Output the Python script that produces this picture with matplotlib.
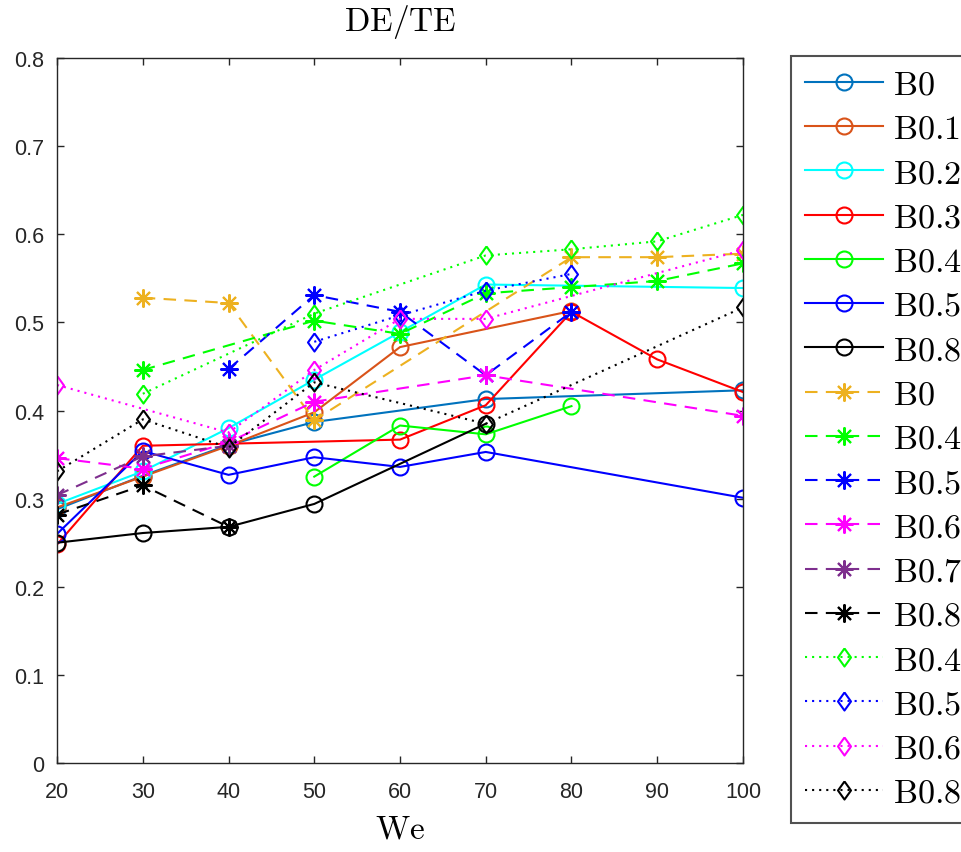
import numpy as np
import matplotlib.pyplot as plt

plt.rcParams['mathtext.fontset'] = 'cm'
plt.rcParams['font.family'] = ['Liberation Sans', 'DejaVu Sans']

# Solid lines, circle markers
x_c_b0 = [20, 30, 40, 50, 70, 100]
y_c_b0 = [0.288, 0.326, 0.361, 0.387, 0.413, 0.423]
x_c_b01 = [20, 30, 40, 50, 60, 80]
y_c_b01 = [0.290, 0.325, 0.360, 0.398, 0.472, 0.513]
x_c_b02 = [20, 30, 40, 50, 60, 70, 100]
y_c_b02 = [0.294, 0.331, 0.380, 0.435, 0.489, 0.543, 0.539]
x_c_b03 = [20, 30, 60, 70, 80, 90, 100]
y_c_b03 = [0.248, 0.360, 0.367, 0.406, 0.512, 0.458, 0.421]
x_c_b04 = [50, 60, 70, 80]
y_c_b04 = [0.325, 0.383, 0.373, 0.405]
x_c_b05 = [20, 30, 40, 50, 60, 70, 100]
y_c_b05 = [0.260, 0.354, 0.327, 0.347, 0.336, 0.353, 0.301]
x_c_b08 = [20, 30, 40, 50, 70]
y_c_b08 = [0.250, 0.261, 0.268, 0.294, 0.385]

# Dashed lines, star markers
x_s_b0 = [30, 40, 50, 80, 90, 100]
y_s_b0 = [0.528, 0.522, 0.389, 0.574, 0.574, 0.578]
x_s_b04 = [30, 50, 60, 70, 80, 90, 100]
y_s_b04 = [0.446, 0.502, 0.487, 0.533, 0.540, 0.547, 0.567]
x_s_b05 = [40, 50, 60, 70, 80]
y_s_b05 = [0.447, 0.531, 0.512, 0.440, 0.512]
x_s_b06 = [20, 30, 40, 50, 70, 100]
y_s_b06 = [0.346, 0.334, 0.364, 0.410, 0.440, 0.394]
x_s_b07 = [20, 30, 40]
y_s_b07 = [0.304, 0.348, 0.360]
x_s_b08 = [20, 30, 40]
y_s_b08 = [0.282, 0.315, 0.268]

# Dotted lines, diamond markers
x_d_b04 = [30, 50, 70, 80, 90, 100]
y_d_b04 = [0.419, 0.510, 0.576, 0.583, 0.592, 0.622]
x_d_b05 = [50, 60, 70, 80]
y_d_b05 = [0.478, 0.508, 0.536, 0.555]
x_d_b06 = [20, 40, 50, 60, 70, 100]
y_d_b06 = [0.429, 0.375, 0.446, 0.504, 0.504, 0.582]
x_d_b08 = [20, 30, 40, 50, 70, 100]
y_d_b08 = [0.331, 0.390, 0.358, 0.432, 0.385, 0.517]

xticks = [20, 30, 40, 50, 60, 70, 80, 90, 100]
yticks = [0, 0.1, 0.2, 0.3, 0.4, 0.5, 0.6, 0.7, 0.8]
ytick_labels = ['0', '0.1', '0.2', '0.3', '0.4', '0.5', '0.6', '0.7', '0.8']

star = (8, 2, 0)
diamond = [(0, 1), (0.72, 0), (0, -1), (-0.72, 0), (0, 1)]
lw = 1.5

fig = plt.figure(figsize=(9.62, 8.53), dpi=100)
ax = fig.add_axes([0.0593, 0.1043, 0.7130, 0.8265])

series = [
    (x_c_b0, y_c_b0, '#0072BD', '-', 'o', 'B0'),
    (x_c_b01, y_c_b01, '#D95319', '-', 'o', 'B0.1'),
    (x_c_b02, y_c_b02, '#00FFFF', '-', 'o', 'B0.2'),
    (x_c_b03, y_c_b03, '#FF0000', '-', 'o', 'B0.3'),
    (x_c_b04, y_c_b04, '#00FF00', '-', 'o', 'B0.4'),
    (x_c_b05, y_c_b05, '#0000FF', '-', 'o', 'B0.5'),
    (x_c_b08, y_c_b08, '#000000', '-', 'o', 'B0.8'),
    (x_s_b0, y_s_b0, '#EDB120', '--', star, 'B0'),
    (x_s_b04, y_s_b04, '#00FF00', '--', star, 'B0.4'),
    (x_s_b05, y_s_b05, '#0000FF', '--', star, 'B0.5'),
    (x_s_b06, y_s_b06, '#FF00FF', '--', star, 'B0.6'),
    (x_s_b07, y_s_b07, '#7E2F8E', '--', star, 'B0.7'),
    (x_s_b08, y_s_b08, '#000000', '--', star, 'B0.8'),
    (x_d_b04, y_d_b04, '#00FF00', ':', diamond, 'B0.4'),
    (x_d_b05, y_d_b05, '#0000FF', ':', diamond, 'B0.5'),
    (x_d_b06, y_d_b06, '#FF00FF', ':', diamond, 'B0.6'),
    (x_d_b08, y_d_b08, '#000000', ':', diamond, 'B0.8'),
]

for xs, ys, col, ls, mk, lab in series:
    ms = 11.5 if mk == 'o' else 13
    line, = ax.plot(xs, ys, color=col, linestyle=ls, marker=mk, markersize=ms,
                    markerfacecolor='none', markeredgecolor=col, markeredgewidth=1.5,
                    linewidth=lw, label=r'$\mathrm{%s}$' % lab)
    if ls == '--':
        line.set_dashes((6, 4))
    elif ls == ':':
        line.set_dashes((1, 2.4))

ax.set_xlim(20, 100)
ax.set_ylim(0, 0.8)
ax.set_xticks(xticks)
ax.set_yticks(yticks)
ax.set_yticklabels(ytick_labels)
ax.tick_params(direction='in', length=5, width=1, top=True, right=True,
               labelsize=15.5, colors='#262626')
ax.tick_params(axis='x', pad=13)
ax.tick_params(axis='y', pad=9)
for sp in ax.spines.values():
    sp.set_color('#262626')
    sp.set_linewidth(1)

ax.set_title(r'$\mathrm{DE/TE}$', fontsize=24, pad=20)
ax.set_xlabel(r'$\mathrm{We}$', fontsize=24, labelpad=8)

leg = fig.legend(loc='upper left', bbox_to_anchor=(791 / 962, 1 - 57 / 853),
                 fontsize=24.5, frameon=True, fancybox=False, borderaxespad=0,
                 handlelength=2.3, handletextpad=0.3, labelspacing=0.39,
                 borderpad=0.4)
leg.get_frame().set_edgecolor('#262626')
leg.get_frame().set_linewidth(1.5)

fig.savefig('out.png', dpi=100)
